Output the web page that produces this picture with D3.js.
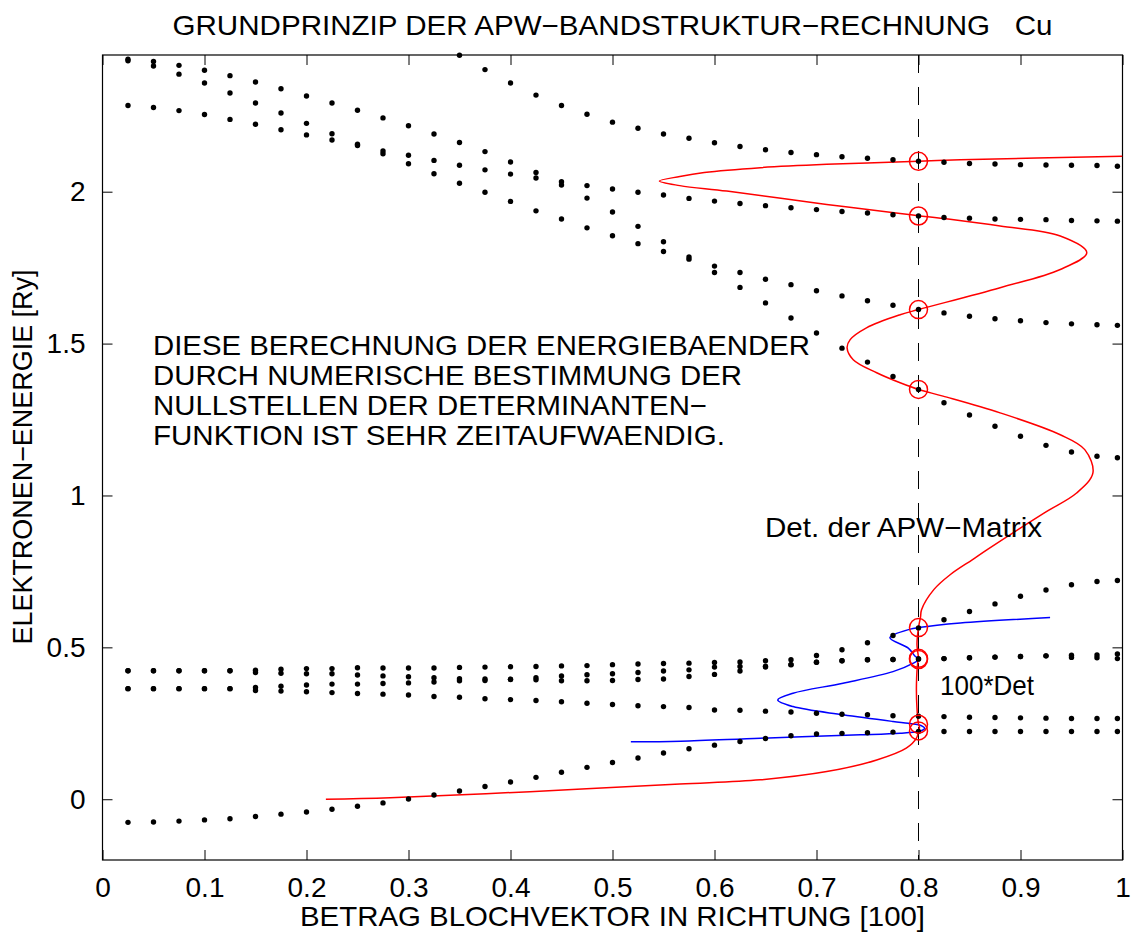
<!DOCTYPE html>
<html>
<head>
<meta charset="utf-8">
<script src="https://cdn.jsdelivr.net/npm/d3@7"></script>
<style>
  html, body { margin: 0; padding: 0; background: #fff; }
  svg text { font-family: "Liberation Sans", Arial, Helvetica, sans-serif; }
</style>
</head>
<body>
<svg id="chart" width="1133" height="942"></svg>
<script>
// ---------- data ----------
const kPoints = [0.025,0.05,0.075,0.1,0.125,0.15,0.175,0.2,0.225,0.25,
  0.275,0.3,0.325,0.35,0.375,0.4,0.425,0.45,0.475,0.5,
  0.525,0.55,0.575,0.6,0.625,0.65,0.675,0.7,0.725,0.75,
  0.775,0.8,0.825,0.85,0.875,0.9,0.925,0.95,0.975,0.995];

const bandU0 = [null,null,null,null,null,null,null,null,null,null,null,null,null,
  2.449,2.402,2.358,2.318,2.284,2.255,2.229,2.209,2.190,2.176,2.161,2.149,2.138,2.129,
  2.122,2.115,2.110,2.105,2.100,2.097,2.093,2.091,2.089,2.088,2.087,2.086,2.084];
const bandU1 = [2.436,2.429,2.416,2.400,2.382,2.361,2.339,2.315,2.292,2.268,2.243,2.217,2.190,
  2.162,2.132,2.098,2.063,2.033,2.020,2.009,1.998,1.989,1.978,1.969,1.961,1.954,1.947,
  1.941,1.935,1.930,1.924,1.920,1.915,1.913,1.910,1.909,1.908,1.905,1.904,1.903];
const bandU2 = [2.431,2.414,2.387,2.358,2.325,2.292,2.259,2.225,2.191,2.156,2.134,2.120,2.103,
  2.087,2.072,2.058,2.045,2.022,1.979,1.933,1.886,1.835,1.785,1.755,1.734,1.712,1.694,
  1.674,1.657,1.641,1.626,1.612,1.601,1.590,1.582,1.575,1.569,1.565,1.562,1.560];
const bandU3 = [2.284,2.277,2.267,2.254,2.238,2.222,2.204,2.187,2.170,2.152,2.125,2.092,2.059,
  2.028,1.998,1.968,1.937,1.910,1.881,1.855,1.829,1.803,1.778,1.734,1.685,1.634,1.584,
  1.535,1.485,1.439,1.392,1.349,1.305,1.265,1.228,1.195,1.165,1.143,1.129,1.124];
const bandL1 = [0.423,0.423,0.423,0.423,0.423,0.425,0.428,0.430,0.430,0.433,0.432,0.432,0.432,
  0.434,0.435,0.436,0.437,0.439,0.440,0.443,0.445,0.447,0.448,0.450,0.452,0.456,0.459,
  0.473,0.492,0.515,0.539,0.564,0.591,0.618,0.643,0.668,0.689,0.706,0.717,0.720];
const bandL2 = [0.423,0.423,0.423,0.423,0.423,0.417,0.415,0.413,0.413,0.409,0.406,0.403,0.400,
  0.397,0.396,0.395,0.400,0.406,0.410,0.413,0.417,0.422,0.426,0.435,0.437,0.438,0.443,
  0.451,0.456,0.459,0.460,0.462,0.463,0.466,0.468,0.470,0.472,0.474,0.475,0.478];
const bandL3 = [0.364,0.364,0.364,0.364,0.364,0.368,0.372,0.376,0.379,0.379,0.381,0.383,0.386,
  0.390,0.391,0.394,0.393,0.390,0.390,0.391,0.394,0.396,0.404,0.411,0.422,0.435,0.443,
  0.451,0.456,0.459,0.460,0.462,0.463,0.466,0.468,0.470,0.472,0.467,0.466,0.463];
const bandL4 = [0.364,0.364,0.364,0.364,0.364,0.358,0.356,0.354,0.351,0.348,0.346,0.343,0.338,
  0.336,0.331,0.328,0.325,0.321,0.316,0.312,0.308,0.305,0.302,0.294,0.293,0.290,0.287,
  0.283,0.280,0.278,0.275,0.273,0.272,0.270,0.269,0.268,0.267,0.266,0.266,0.266];
const bandL5 = [-0.076,-0.075,-0.072,-0.068,-0.064,-0.057,-0.049,-0.042,-0.033,-0.023,-0.012,0.001,0.014,
  0.027,0.042,0.057,0.072,0.089,0.105,0.121,0.136,0.152,0.166,0.178,0.190,0.200,0.209,
  0.215,0.217,0.219,0.221,0.223,0.223,0.223,0.223,0.223,0.223,0.223,0.223,0.223];
const bands = [bandU0, bandU1, bandU2, bandU3, bandL1, bandL2, bandL3, bandL4, bandL5];

// determinant of the APW matrix (x = 0.8 + c*Det), as function of energy
const detE = [0.000,0.005,0.025,0.050,0.064,0.091,0.129,0.168,0.201,0.225,0.236,0.248,0.300,0.380,
  0.455,0.462,0.510,0.565,0.600,0.624,0.690,0.739,0.789,0.821,0.942,1.008,1.074,1.151,1.200,
  1.272,1.327,1.349,1.371,1.404,1.447,1.486,1.513,1.552,1.595,1.612,1.684,1.744,1.799,1.854,
  1.887,1.909,1.921,1.928,1.958,2.002,2.020,2.035,2.050,2.063,2.079,2.090,2.100,2.105,2.117];
const detX = [0.219,0.282,0.419,0.566,0.645,0.710,0.759,0.788,0.798,0.800,0.801,0.800,0.7985,0.798,
  0.7995,0.800,0.7985,0.800,0.802,0.803,0.815,0.831,0.853,0.867,0.923,0.955,0.971,0.963,0.939,
  0.880,0.824,0.800,0.782,0.759,0.736,0.730,0.733,0.749,0.782,0.800,0.880,0.939,0.965,0.939,
  0.880,0.831,0.800,0.782,0.710,0.612,0.566,0.546,0.566,0.590,0.645,0.710,0.800,0.841,1.000];

// 100*Det
const det100E = [0.189,0.191,0.201,0.212,0.2175,0.223,0.229,0.234,0.240,0.245,0.250,0.256,0.278,0.305,
  0.327,0.349,0.382,0.420,0.448,0.462,0.470,0.4975,0.532,0.560,0.565,0.580,0.598];
const det100X = [0.518,0.567,0.645,0.743,0.782,0.800,0.805,0.806,0.804,0.800,0.790,0.775,0.726,0.677,
  0.662,0.677,0.726,0.775,0.795,0.801,0.797,0.790,0.772,0.792,0.800,0.841,0.929];

const zeroE = [0.225,0.247,0.460,0.464,0.565,1.349,1.612,1.920,2.100];
const kCut = 0.8;

const xTicks = [0,0.1,0.2,0.3,0.4,0.5,0.6,0.7,0.8,0.9,1];
const yTicks = [0,0.5,1,1.5,2];

const titleText = "GRUNDPRINZIP DER APW\u2212BANDSTRUKTUR\u2212RECHNUNG   Cu";
const xLabelText = "BETRAG BLOCHVEKTOR IN RICHTUNG [100]";
const yLabelText = "ELEKTRONEN\u2212ENERGIE [Ry]";
const noteLines = ["DIESE BERECHNUNG DER ENERGIEBAENDER",
  "DURCH NUMERISCHE BESTIMMUNG DER",
  "NULLSTELLEN DER DETERMINANTEN\u2212",
  "FUNKTION IST SEHR ZEITAUFWAENDIG."];
const detLabel = "Det. der APW\u2212Matrix";
const det100Label = "100*Det";

// ---------- drawing ----------
const L = 102.5, R = 1122.5, T = 55, B = 860;
const svg = d3.select("#chart");
const x = d3.scaleLinear().domain([0, 1]).range([L, R]);
const y = d3.scaleLinear().domain([-0.2, 2.45]).range([B, T]);

svg.append("defs").append("clipPath").attr("id", "clip")
  .append("rect").attr("x", L).attr("y", T).attr("width", R - L).attr("height", B - T);

const fs = 28;

// axes
const fmt = d => d3.format("")(d);
const gx = svg.append("g").attr("transform", `translate(0,${B})`)
  .call(d3.axisBottom(x).tickValues(xTicks).tickFormat(fmt).tickSizeInner(-10).tickSizeOuter(0).tickPadding(17));
const gxt = svg.append("g").attr("transform", `translate(0,${T})`)
  .call(d3.axisTop(x).tickValues(xTicks).tickFormat("").tickSizeInner(-10).tickSizeOuter(0));
const gy = svg.append("g").attr("transform", `translate(${L},0)`)
  .call(d3.axisLeft(y).tickValues(yTicks).tickFormat(fmt).tickSizeInner(-10).tickSizeOuter(0).tickPadding(17));
const gyr = svg.append("g").attr("transform", `translate(${R},0)`)
  .call(d3.axisRight(y).tickValues(yTicks).tickFormat("").tickSizeInner(-10).tickSizeOuter(0));
[gx, gxt, gy, gyr].forEach(g => {
  g.select(".domain").remove();
  g.selectAll("line").attr("stroke", "#000").attr("stroke-width", 1);
  g.selectAll("text").attr("font-size", fs).attr("fill", "#000")
    .attr("font-family", "'Liberation Sans', Arial, sans-serif");
});

// frame
svg.append("rect").attr("x", L).attr("y", T).attr("width", R - L).attr("height", B - T)
  .attr("fill", "none").attr("stroke", "#000").attr("stroke-width", 1.2);

const plot = svg.append("g").attr("clip-path", "url(#clip)");

// dashed line at k = 0.8
plot.append("line").attr("x1", x(kCut)).attr("x2", x(kCut)).attr("y1", T).attr("y2", B)
  .attr("stroke", "#000").attr("stroke-width", 1).attr("stroke-dasharray", "18,14");

// band dots
const dots = [];
bands.forEach(b => b.forEach((e, i) => { if (e !== null) dots.push({ k: kPoints[i], e }); }));
svg.append("g").selectAll("circle").data(dots).join("circle")
  .attr("cx", d => x(d.k)).attr("cy", d => y(d.e)).attr("r", 2.7).attr("fill", "#000");

// curves
const line = d3.line().x(d => x(d.x)).y(d => y(d.e)).curve(d3.curveCatmullRom.alpha(0.5));
const detPts = detE.map((e, i) => ({ e, x: detX[i] }));
const det100Pts = det100E.map((e, i) => ({ e, x: det100X[i] }));
plot.append("path").attr("d", line(det100Pts)).attr("fill", "none")
  .attr("stroke", "#0000ff").attr("stroke-width", 1.5);
plot.append("path").attr("d", line(detPts)).attr("fill", "none")
  .attr("stroke", "#ff0000").attr("stroke-width", 1.5);

// zero markers
svg.append("g").selectAll("circle").data(zeroE).join("circle")
  .attr("cx", x(kCut)).attr("cy", d => y(d)).attr("r", 9)
  .attr("fill", "none").attr("stroke", "#ff0000").attr("stroke-width", 1.5);

// texts
svg.append("text").attr("x", 612.5).attr("y", 35).attr("text-anchor", "middle")
  .attr("font-size", fs).style("white-space", "pre")
  .attr("textLength", 880).attr("lengthAdjust", "spacingAndGlyphs").text(titleText);
svg.append("text").attr("x", 612.5).attr("y", 926).attr("text-anchor", "middle")
  .attr("font-size", fs).attr("textLength", 625).attr("lengthAdjust", "spacingAndGlyphs").text(xLabelText);
svg.append("text").attr("transform", "translate(32,457) rotate(-90)").attr("text-anchor", "middle")
  .attr("font-size", fs).attr("textLength", 375).attr("lengthAdjust", "spacingAndGlyphs").text(yLabelText);

const noteW = [657, 589, 554, 572];
noteLines.forEach((t, i) => {
  svg.append("text").attr("x", 153).attr("y", 355 + 30 * i).attr("font-size", fs)
    .attr("textLength", noteW[i]).attr("lengthAdjust", "spacingAndGlyphs").text(t);
});
svg.append("text").attr("x", 765).attr("y", 537).attr("font-size", fs)
  .attr("textLength", 277).attr("lengthAdjust", "spacingAndGlyphs").text(detLabel);
svg.append("text").attr("x", 940).attr("y", 695).attr("font-size", fs)
  .attr("textLength", 94).attr("lengthAdjust", "spacingAndGlyphs").text(det100Label);
</script>
</body>
</html>
